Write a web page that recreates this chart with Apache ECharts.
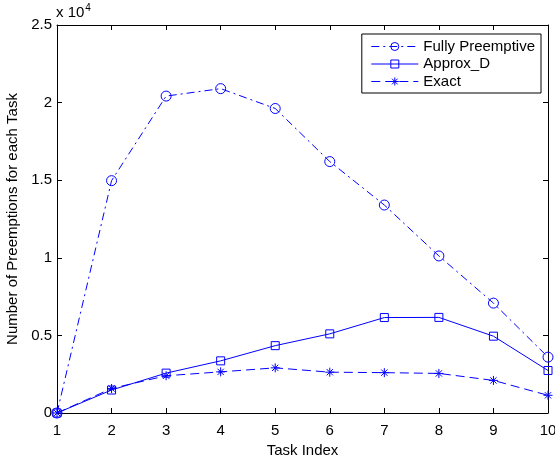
<!DOCTYPE html>
<html><head><meta charset="utf-8">
<script src="https://cdn.jsdelivr.net/npm/echarts@6/dist/echarts.min.js"></script>
<style>html,body{margin:0;padding:0;background:#fff}#c{width:555px;height:456px}</style>
</head><body><div id="c"></div>
<script>
const tasks = [1,2,3,4,5,6,7,8,9,10];
const fullyPreemptive = [0,14970,20420,20900,19620,16200,13400,10120,7080,3600];
const approxD = [0,1480,2570,3360,4340,5100,6150,6160,4950,2740];
const exact = [0,1580,2400,2650,2910,2630,2600,2550,2100,1140];
const yTicks = ['0','0.5','1','1.5','2','2.5'];
const FONT = 'Liberation Sans, Arial, sans-serif';
const FS = 15;
const BLUE = '#0000ff';
const asterisk = 'path://M0,5L10,5M5,0L5,10M1.5,1.5L8.5,8.5M8.5,1.5L1.5,8.5';
const pairs = a => a.map((v,i)=>[tasks[i], v]);
const chart = echarts.init(document.getElementById('c'), null, {renderer:'canvas'});
const axisCommon = {
  axisLine:{show:true,onZero:false,lineStyle:{color:'#000',width:1}},
  axisTick:{show:true,inside:true,length:5,lineStyle:{color:'#000'}},
  splitLine:{show:false}
};
const symStyle = {color:'none',borderColor:BLUE,borderWidth:1};
chart.setOption({
  animation:false,
  grid:{left:57,right:7,top:25,bottom:43,outerBoundsMode:'none',containLabel:false},
  graphic:[{type:'text',left:56,top:3,style:{text:'{a|x 10}{b|4}',rich:{a:{fontFamily:FONT,fontSize:FS,fill:'#000'},b:{fontFamily:FONT,fontSize:10,fill:'#000',verticalAlign:'top',padding:[0,0,10,1]}}}}],
  legend:{orient:'vertical',right:14,top:34,backgroundColor:'#fff',borderColor:'#000',borderWidth:1,
    padding:[5,6,4,9],itemGap:2.5,itemWidth:47,itemHeight:10,
    textStyle:{fontFamily:FONT,fontSize:FS,color:'#000'},
    lineStyle:{width:1},
    itemStyle:{color:'none',borderColor:BLUE,borderWidth:1},
    data:['Fully Preemptive','Approx_D','Exact']},
  xAxis:[
    Object.assign({type:'value',min:1,max:10,interval:1,position:'bottom',name:'Task Index',nameLocation:'middle',nameGap:27,
      nameTextStyle:{fontFamily:FONT,fontSize:FS,color:'#000'},
      axisLabel:{fontFamily:FONT,fontSize:FS,color:'#000',margin:10}},axisCommon),
    Object.assign({type:'value',min:1,max:10,interval:1,position:'top',axisLabel:{show:false}},axisCommon)
  ],
  yAxis:[
    Object.assign({type:'value',min:0,max:25000,interval:5000,position:'left',name:'Number of Preemptions for each Task',nameLocation:'middle',nameGap:32,
      nameTextStyle:{fontFamily:FONT,fontSize:FS,color:'#000'},
      axisLabel:{fontFamily:FONT,fontSize:FS,color:'#000',margin:5,formatter:(v)=>yTicks[Math.round(v/5000)]}},axisCommon),
    Object.assign({type:'value',min:0,max:25000,interval:5000,position:'right',axisLabel:{show:false}},axisCommon)
  ],
  series:[
    {name:'Fully Preemptive',type:'line',data:pairs(fullyPreemptive),symbol:'circle',symbolSize:10,
      lineStyle:{color:BLUE,width:1,type:[8,4,2,4]},itemStyle:symStyle,z:3},
    {name:'Approx_D',type:'line',data:pairs(approxD),symbol:'rect',symbolSize:8,
      lineStyle:{color:BLUE,width:1,type:'solid'},itemStyle:symStyle,z:3},
    {name:'Exact',type:'line',data:pairs(exact),symbol:asterisk,symbolSize:9,
      lineStyle:{color:BLUE,width:1,type:[9,5]},itemStyle:symStyle,z:3}
  ]
});
</script></body></html>
